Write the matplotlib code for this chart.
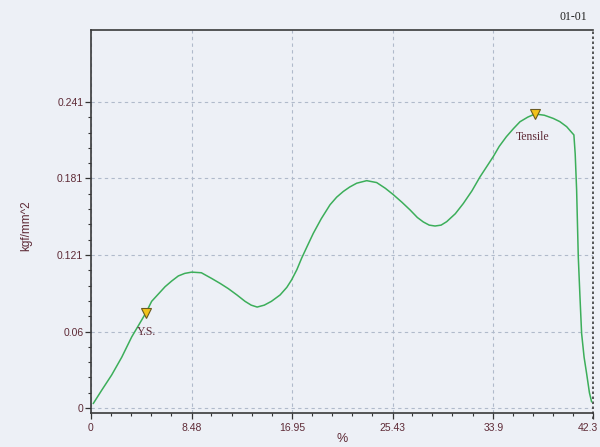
import matplotlib
matplotlib.use("Agg")
import matplotlib.pyplot as plt
import matplotlib.transforms as mtransforms
from matplotlib.ticker import FixedLocator

# Data
strain = [0.2, 0.9, 1.74, 2.59, 3.43, 4.0, 4.63, 5.11, 5.7, 6.24, 6.8, 7.36, 7.9, 8.49,
          9.3, 10.17, 10.9, 11.57, 12.3, 12.98, 13.5, 14.0, 14.6, 15.2, 15.93, 16.5,
          16.91, 17.35, 17.75, 18.25, 18.73, 19.4, 20.14, 20.7, 21.26, 21.8, 22.39,
          23.23, 24.07, 24.8, 25.47, 26.2, 26.88, 27.5, 28.0, 28.5, 28.99, 29.5, 29.97,
          30.7, 31.37, 32.1, 32.78, 33.9, 34.4, 35.0, 35.6, 36.15, 36.8, 37.41, 38.2,
          38.95, 39.5, 40.08, 40.5, 40.69, 40.8, 40.92, 41.06, 41.2, 41.34, 41.55,
          41.76, 42.0, 42.18]
stress = [0.0037, 0.014, 0.026, 0.040, 0.056, 0.065, 0.075, 0.084, 0.090, 0.0955, 0.100,
          0.104, 0.106, 0.107, 0.1065, 0.102, 0.098, 0.094, 0.089, 0.084, 0.081, 0.0795,
          0.081, 0.084, 0.089, 0.095, 0.101, 0.109, 0.118, 0.128, 0.1375, 0.149, 0.160,
          0.166, 0.1705, 0.174, 0.177, 0.179, 0.1775, 0.173, 0.168, 0.162, 0.156, 0.150,
          0.1465, 0.144, 0.1433, 0.144, 0.1467, 0.153, 0.161, 0.171, 0.182, 0.198, 0.206,
          0.2136, 0.220, 0.2254, 0.229, 0.2315, 0.2305, 0.228, 0.2255, 0.2215, 0.217,
          0.215, 0.200, 0.1717, 0.119, 0.088, 0.0588, 0.040, 0.0273, 0.012, 0.005]

x_ticks = [0, 8.48, 16.95, 25.43, 33.9, 42.3]
x_tick_labels = ["0", "8.48", "16.95", "25.43", "33.9", "42.3"]
y_ticks = [0, 0.06025, 0.1205, 0.18075, 0.241]
y_tick_labels = ["0", "0.06", "0.121", "0.181", "0.241"]

ys_point = (4.63, 0.075)
tensile_point = (37.41, 0.2315)

bg = "#edf0f6"
label_col = "#5e2a36"

fig = plt.figure(figsize=(6.0, 4.47), dpi=100, facecolor=bg)
ax = fig.add_axes([91/600, 1-413/447, (593-91)/600, (413-30)/447])
ax.set_facecolor(bg)

ax.set_xlim(0, 42.3)
ax.set_ylim(-0.0039, 0.2976)

ax.plot(strain, stress, color="#3cae5a", lw=1.1, zorder=3, solid_joinstyle="round")

# markers
for (px, py) in (ys_point, tensile_point):
    ax.plot([px], [py], marker="v", ms=6.5, mfc="#f2c21a", mec="#6a5a20", mew=0.8, zorder=4)

ax.text(ys_point[0], ys_point[1] - 0.0155, "Y.S.", ha="center", va="center",
        family="Liberation Serif", fontsize=8.5, color=label_col, zorder=5)
ax.text(tensile_point[0] - 0.2, tensile_point[1] - 0.0178, "Tensile", ha="center", va="center",
        family="Liberation Serif", fontsize=8.5, color=label_col, zorder=5)

# ticks
ax.xaxis.set_major_locator(FixedLocator(x_ticks))
ax.set_xticklabels(x_tick_labels)
ax.yaxis.set_major_locator(FixedLocator(y_ticks))
ax.set_yticklabels(y_tick_labels)
xminor = [i * 8.46 / 5 for i in range(26) if i % 5 != 0]
yminor = [i * 0.241 / 20 for i in range(21) if i % 5 != 0]
ax.xaxis.set_minor_locator(FixedLocator(xminor))
ax.yaxis.set_minor_locator(FixedLocator(yminor))
ax.tick_params(axis="both", which="major", direction="out", length=4, width=0.9,
               color="#333333", labelsize=7.5, labelcolor=label_col, labelfontfamily="Liberation Sans")
ax.tick_params(axis="both", which="minor", direction="out", length=2.5, width=0.8, color="#333333")
ax.tick_params(axis="x", pad=3)
ax.tick_params(axis="y", pad=1.5)

# grid
ax.grid(True, which="major", linestyle=(0, (3, 3)), color="#b0bacb", lw=0.8, zorder=1)

for s in ("left", "bottom", "top"):
    ax.spines[s].set_color("#3a3a3a")
    ax.spines[s].set_linewidth(1.2)
ax.spines["right"].set_visible(False)
ax.axvline(42.3, ymin=-0.015, ymax=1.0, color="#3a3a3a", lw=1.2, linestyle=(0, (1.5, 1.5)),
           clip_on=False, zorder=2)

ax.set_xlabel("%", fontsize=9, color=label_col, family="Liberation Sans", labelpad=0)
ax.set_ylabel("kgf/mm^2", fontsize=8.5, color=label_col, family="Liberation Sans")
ax.yaxis.set_label_coords(-0.118, 0.49)

fig.text(573/600, 1-17/447, "01-01", ha="center", va="center", family="Liberation Serif",
         fontsize=8.5, color="#222222")

fig.canvas.draw()
last = ax.xaxis.get_major_ticks()[-1].label1
last.set_horizontalalignment("right")
last.set_transform(last.get_transform() + mtransforms.ScaledTranslation(0.045, 0, fig.dpi_scale_trans))

fig.savefig("out.png", dpi=100, facecolor=bg)
